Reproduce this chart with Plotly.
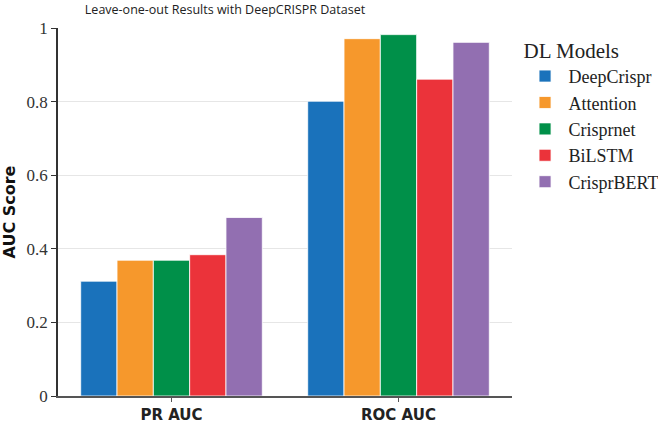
import plotly.graph_objects as go

categories = ["PR AUC", "ROC AUC"]
models = ["DeepCrispr", "Attention", "Crisprnet", "BiLSTM", "CrisprBERT"]
values = {
    "DeepCrispr": [0.312, 0.801],
    "Attention": [0.369, 0.971],
    "Crisprnet": [0.369, 0.982],
    "BiLSTM": [0.384, 0.861],
    "CrisprBERT": [0.485, 0.961],
}
colors = ["#1a72bb", "#f6982c", "#009049", "#eb333a", "#926fb1"]
y_ticks = [0, 0.2, 0.4, 0.6, 0.8, 1]
y_tick_labels = ["0", "0.2", "0.4", "0.6", "0.8", "1"]

fig = go.Figure()
for m, c in zip(models, colors):
    fig.add_trace(go.Bar(
        name=m, x=categories, y=values[m],
        marker=dict(color=c, line=dict(color="rgba(255,255,255,0.8)", width=1)),
    ))

fig.update_layout(
    width=658, height=426,
    margin=dict(l=58, r=146, t=28, b=30, autoexpand=False),
    paper_bgcolor="white", plot_bgcolor="white",
    barmode="group", bargap=0.2, bargroupgap=0,
    title=dict(text="Leave-one-out Results with DeepCRISPR Dataset",
               x=225/658, xanchor="center", y=1-10/426, yanchor="middle",
               font=dict(family="Open Sans", size=12.5, color="#222")),
    legend=dict(
        title=dict(text="DL Models", font=dict(family="Liberation Serif", size=21, color="#222")),
        font=dict(family="Liberation Serif", size=18, color="#222"),
        x=1.021, xanchor="left", y=0.993, yanchor="top",
        tracegroupgap=6, itemwidth=37,
    ),
    showlegend=True,
)
fig.update_xaxes(
    showline=True, linecolor="#555", linewidth=1.5,
    ticks="outside", ticklen=4, tickcolor="#555",
    tickfont=dict(family="DejaVu Sans", size=15, color="#222", weight="bold"),
    showgrid=False, automargin=False,
)
fig.update_yaxes(
    range=[0, 1], tickvals=y_ticks, ticktext=y_tick_labels,
    showline=True, linecolor="#333", linewidth=1.5,
    ticks="outside", ticklen=5, tickcolor="#333",
    tickfont=dict(family="Liberation Serif", size=17, color="#333"),
    showgrid=True, gridcolor="#e6e6e6", gridwidth=1,
    zeroline=False, automargin=False,
    title=dict(text="AUC Score", font=dict(family="DejaVu Sans", size=16, color="#111", weight="bold"), standoff=14),
)

fig.write_html("out.html", config={"displayModeBar": False},
               post_script="document.body.style.margin='0';")
